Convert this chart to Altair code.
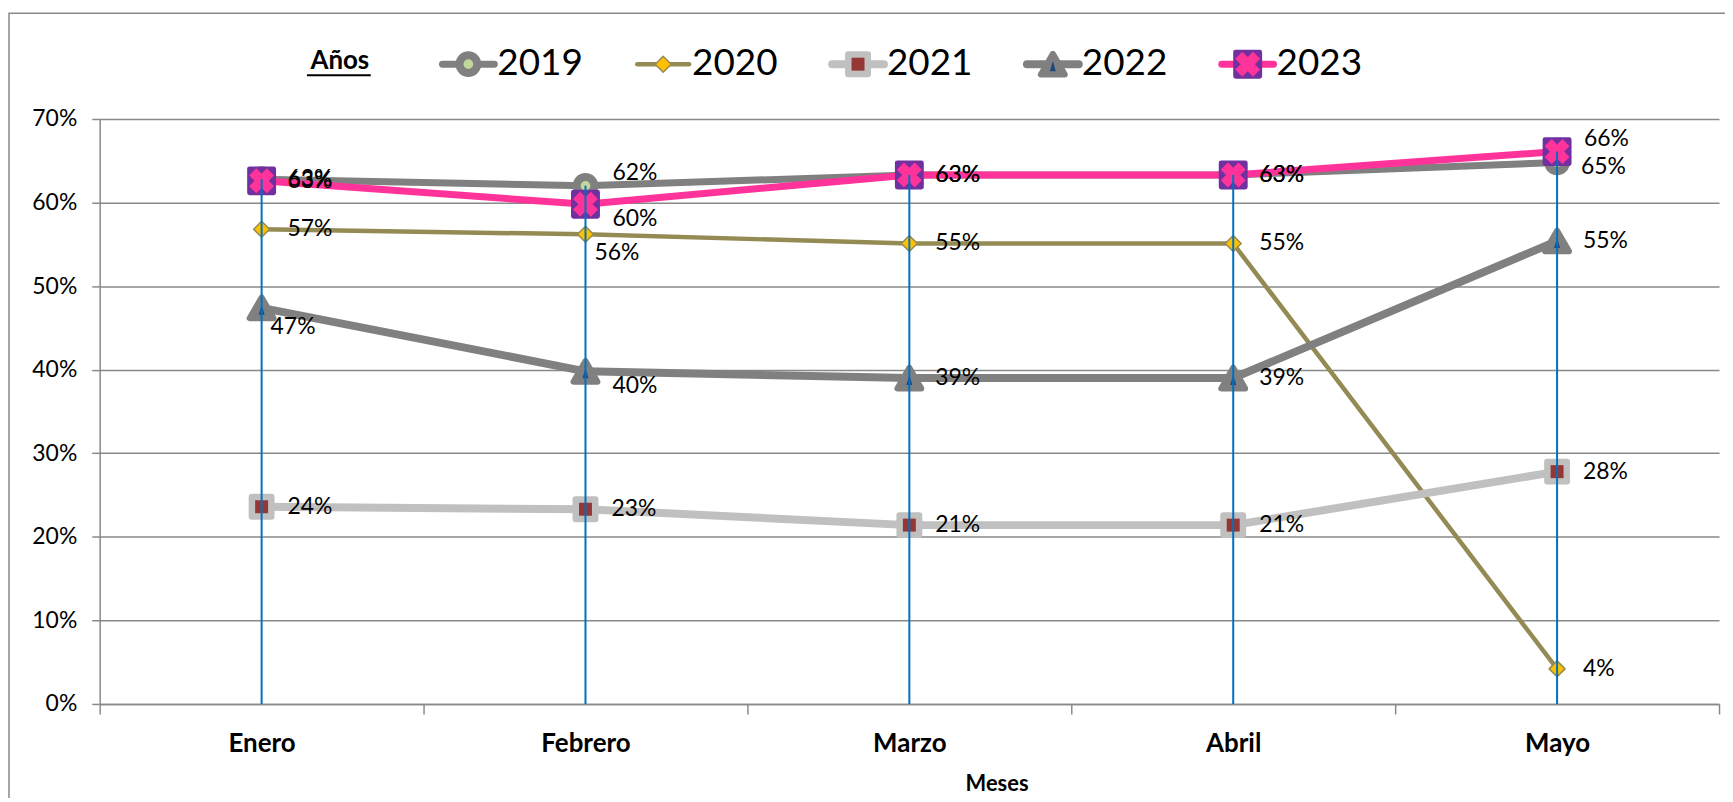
import altair as alt
import pandas as pd

# ---------------- data ----------------
months = ["Enero", "Febrero", "Marzo", "Abril", "Mayo"]
years = ["2019", "2020", "2021", "2022", "2023"]
v2019 = [0.628, 0.620, 0.633, 0.633, 0.648]
v2020 = [0.568, 0.562, 0.551, 0.551, 0.042]
v2021 = [0.236, 0.233, 0.214, 0.214, 0.278]
v2022 = [0.474, 0.398, 0.390, 0.390, 0.554]
v2023 = [0.626, 0.598, 0.633, 0.633, 0.661]
y_ticks = [0, 0.1, 0.2, 0.3, 0.4, 0.5, 0.6, 0.7]
legend_title = "Años"
x_title = "Meses"

series = {"2019": v2019, "2020": v2020, "2021": v2021, "2022": v2022, "2023": v2023}

# label placement groups (which labels sit above / below their point)
label_up_right = [("2019", "Febrero"), ("2023", "Mayo")]
label_down_right = [("2023", "Febrero"), ("2022", "Febrero")]
label_down = [("2020", "Febrero"), ("2022", "Enero")]
label_right_low = [("2019", "Mayo")]

rows = []
for yr in years:
    for i, m in enumerate(months):
        k = (yr, m)
        if k in label_up_right:
            pos = "upright"
        elif k in label_down_right:
            pos = "downright"
        elif k in label_down:
            pos = "down"
        elif k in label_right_low:
            pos = "rightlow"
        else:
            pos = "right"
        rows.append(dict(year=yr, month=m, mi=i, value=series[yr][i], pos=pos))
df = pd.DataFrame(rows)
leg_df = pd.DataFrame({"lyear": years})

# ---------------- styles ----------------
FONT = "Lato"
GRID = "#898989"
STY = {
    "2019": dict(line="#808080", lw=7, markers=[
        dict(shape="circle", size=314, fill="#C3D69B", stroke="#808080", sw=8)]),
    "2020": dict(line="#948A54", lw=4.5, markers=[
        dict(shape="diamond", size=256, fill="#FFC000", stroke="#948A54", sw=1.5)]),
    "2021": dict(line="#C0C0C0", lw=8, markers=[
        dict(shape="square", size=400, fill="#C0C0C0", stroke="#C0C0C0", sw=6),
        dict(shape="square", size=169, fill="#953735", stroke="#953735", sw=0)]),
    "2022": dict(line="#808080", lw=8, markers=[
        dict(shape="triangle-up", size=576, fill="#808080", stroke="#808080", sw=6),
        dict(shape="M0,-1L0.6,1L-0.6,1Z", size=100, fill="#1F497D", stroke="#1F497D", sw=0, dy=2)]),
    "2023": dict(line="#FF3399", lw=7, markers=[
        dict(shape="square", size=576, fill="#7030A0", stroke="#7030A0", sw=5),
        dict(shape="cross", size=640, fill="#FF3399", stroke="#FF3399", sw=0, angle=45)]),
}

X = alt.X(
    "month:N",
    bandPosition=0.5,
    scale=alt.Scale(type="band", domain=months, paddingInner=0, paddingOuter=0),
    axis=alt.Axis(
        title=x_title, tickBand="extent", tickSize=10, tickColor=GRID, tickWidth=1.5,
        domainColor=GRID, domainWidth=1.5, grid=False, labelAngle=0,
        labelFont=FONT, labelFontSize=26, labelFontWeight="bold", labelColor="black",
        labelPadding=30, labelBaseline="middle",
        titleFont=FONT, titleFontSize=22, titleFontWeight="bold", titleColor="black",
        titleX=900, titleY=80, titleBaseline="middle",
    ),
)
Y = alt.Y(
    "value:Q",
    scale=alt.Scale(domain=[0, 0.7], nice=False, zero=True),
    axis=alt.Axis(
        values=y_ticks, format=".0%", tickSize=8, tickColor=GRID, tickWidth=1.5,
        domainColor=GRID, domainWidth=1.5, gridColor=GRID, gridWidth=1.5,
        labelFont=FONT, labelFontSize=23, labelColor="black", labelPadding=15, title=None,
    ),
)


def marker(base, mk, x, y):
    return base.mark_point(
        filled=True, shape=mk["shape"], size=mk["size"], fill=mk["fill"],
        stroke=mk["stroke"], strokeWidth=mk["sw"], strokeJoin="round",
        angle=mk.get("angle", 0), yOffset=mk.get("dy", 0), opacity=1,
    ).encode(x=x, y=y)


main_layers = []
for yr in years:
    st = STY[yr]
    base = alt.Chart(df).transform_filter(alt.datum.year == yr)
    main_layers.append(
        base.mark_line(color=st["line"], strokeWidth=st["lw"], strokeJoin="round",
                       strokeCap="round").encode(x=X, y=Y, order="mi:Q"))
    for mk in st["markers"]:
        main_layers.append(marker(base, mk, X, Y))

# drop lines from the highest point of each month to the axis
main_layers.append(
    alt.Chart(df).transform_aggregate(value="max(value)", groupby=["month"])
    .mark_rule(color="#0070C0", strokeWidth=2)
    .encode(x=X, y=Y, y2=alt.datum(0)))

# data labels
offsets = {"right": (26, 0), "upright": (27, -13), "downright": (27, 15),
           "down": (9, 19), "rightlow": (24, 5)}
for pos, (ddx, ddy) in offsets.items():
    main_layers.append(
        alt.Chart(df).transform_filter(alt.datum.pos == pos)
        .mark_text(align="left", baseline="middle", dx=ddx, dy=ddy, font=FONT,
                   fontSize=23, color="black")
        .encode(x=X, y=Y, text=alt.Text("value:Q", format=".0%")))

main = alt.layer(*main_layers)

# ---------------- legend ----------------
LX = alt.X("lyear:N", scale=alt.Scale(type="point", domain=years, range=[370, 1152], padding=0),
           axis=None)
LY = alt.value(-55)
leg_layers = []
for yr in years:
    st = STY[yr]
    base = alt.Chart(leg_df).transform_filter(alt.datum.lyear == yr)
    leg_layers.append(
        base.mark_point(shape="stroke", size=2704, filled=False, stroke=st["line"],
                        strokeWidth=st["lw"], strokeCap="round", opacity=1)
        .encode(x=LX, y=LY))
    for mk in st["markers"]:
        leg_layers.append(marker(base, mk, LX, LY))
    leg_layers.append(
        base.mark_text(align="left", baseline="middle", dx=29,
                       font=FONT, fontSize=37, color="black")
        .encode(x=LX, y=LY, text="lyear:N"))
legend = alt.layer(*leg_layers)

one = pd.DataFrame({"t": [legend_title]})
anos = alt.Chart(one).mark_text(align="center", baseline="middle", font=FONT, fontSize=26,
                                fontWeight="bold", color="black").encode(
    x=alt.value(241), y=alt.value(-58), text="t:N")
anos_ul = alt.Chart(one).mark_rule(color="black", strokeWidth=2).encode(
    x=alt.value(208), x2=alt.value(272), y=alt.value(-44))
frame = alt.Chart(one).mark_rect(filled=False, stroke=GRID, strokeWidth=1.5).encode(
    x=alt.value(-91), x2=alt.value(1700), y=alt.value(-106), y2=alt.value(800))

chart = alt.layer(frame, main, legend, anos, anos_ul).resolve_scale(x="independent").properties(
    width=1625, height=587,
    autosize=alt.AutoSizeParams(type="none"),
    padding={"left": 92, "top": 110, "right": 6, "bottom": 93},
    background="white",
).configure_view(stroke=None)

chart.save("out.html", embed_options={"renderer": "svg", "actions": False})
